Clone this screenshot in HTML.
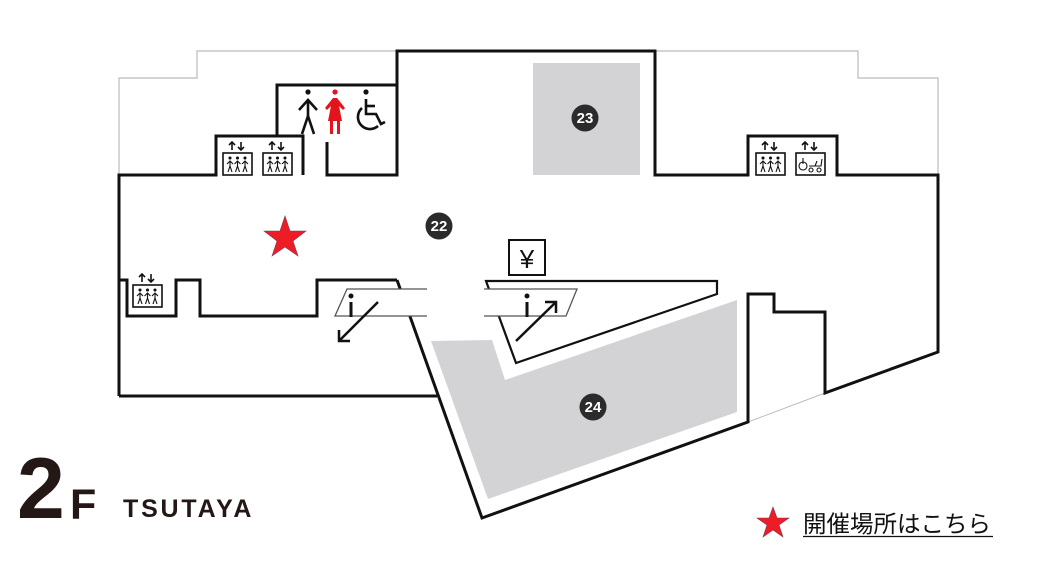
<!DOCTYPE html>
<html><head><meta charset="utf-8"><style>
html,body{margin:0;padding:0;background:#fff;width:1040px;height:569px;overflow:hidden}
svg{display:block}
</style></head><body>
<svg width="1040" height="569" viewBox="0 0 1040 569" xmlns="http://www.w3.org/2000/svg">
<polyline points="119,175 119,78 197,78 197,51 399,51" fill="none" stroke="#bbb" stroke-width="1.2"/>
<polyline points="655,51 858,51 858,78 938,78 938,175" fill="none" stroke="#bbb" stroke-width="1.2"/>
<line x1="748" y1="422" x2="825" y2="393" stroke="#bbb" stroke-width="1"/>
<rect x="533" y="63" width="107" height="112" fill="#d3d3d5"/>
<polygon points="431,341 492,340 505,380 737,300 737,412 488,499" fill="#d3d3d5"/>
<g fill="none" stroke="#111" stroke-width="3" stroke-linejoin="miter">
<polyline points="119,396 119,175 216,175 216,136 303,136 303,175"/>
<polyline points="277,136 277,85 397,85"/>
<polyline points="327,142 327,175 397,175 397,51 655,51 655,175 748,175 748,136 837,136 837,175 938,175 938,352 825,393 825,312 774,312 774,294 748,294 748,422 482,518 397,280"/>
<polyline points="119,396 437,396"/>
<polyline points="119,280 127,280 127,316 176,316 176,280 200,280 200,316 317,316 317,280 397,280"/>
</g>
<polygon points="486,281 717,281 717,294 516,363" fill="none" stroke="#111" stroke-width="2.2"/>
<polygon points="347,289 427,289 427,316 335,316" fill="#fff" stroke="none"/>
<polyline points="427,289 347,289 335,316 427,316" fill="none" stroke="#555" stroke-width="1.3"/>
<polygon points="484,289 577,289 566,316 484,316" fill="#fff" stroke="none"/>
<polyline points="484,289 577,289 566,316 484,316" fill="none" stroke="#555" stroke-width="1.3"/>
<g fill="#111" stroke="#111">
<circle cx="351" cy="296" r="2.5" stroke="none"/>
<rect x="349.5" y="302" width="3" height="15" stroke="none"/>
<line x1="378" y1="302" x2="339" y2="341" stroke-width="2.5"/>
<polyline points="339,330 339,341 350,341" fill="none" stroke-width="2.5"/>
<circle cx="527" cy="296" r="2.5" stroke="none"/>
<rect x="525.5" y="302" width="3" height="15" stroke="none"/>
<line x1="516" y1="341" x2="556" y2="302" stroke-width="2.5"/>
<polyline points="545,302 556,302 556,313" fill="none" stroke-width="2.5"/>
</g>
<rect x="509" y="240" width="36" height="35" fill="#fff" stroke="#111" stroke-width="2"/>
<text x="527" y="268" font-family="Liberation Sans, sans-serif" font-size="26" text-anchor="middle" fill="#111">¥</text>
<g font-family="Liberation Sans, sans-serif" font-weight="bold" font-size="15" fill="#fff" text-anchor="middle">
<circle cx="439" cy="226" r="13.5" fill="#2b2b2b"/><text x="439" y="231">22</text>
<circle cx="585" cy="118" r="13.5" fill="#2b2b2b"/><text x="585" y="123">23</text>
<circle cx="593" cy="407" r="13.5" fill="#2b2b2b"/><text x="593" y="412">24</text>
</g>
<defs>
<g id="ar">
<g stroke="#111" stroke-width="1.6" fill="none">
<line x1="10" y1="3" x2="10" y2="11"/><polyline points="7,6 10,3 13,6"/>
<line x1="19" y1="3" x2="19" y2="11"/><polyline points="16,8 19,11 22,8"/>
</g>
</g>
<g id="elev">
<use href="#ar"/>
<rect x="1" y="14" width="29" height="22" fill="#fff" stroke="#111" stroke-width="1.6"/>
<g stroke="#111" stroke-width="1.1" fill="none">
<circle cx="8" cy="19" r="1" fill="#111"/><polyline points="5,25 8,22 11,25"/><polyline points="6,33 8,27 10,33"/><line x1="8" y1="22" x2="8" y2="27"/>
<circle cx="15.5" cy="19" r="1" fill="#111"/><polyline points="12.5,25 15.5,22 18.5,25"/><polyline points="13.5,33 15.5,27 17.5,33"/><line x1="15.5" y1="22" x2="15.5" y2="27"/>
<circle cx="23" cy="19" r="1" fill="#111"/><polyline points="20,25 23,22 26,25"/><polyline points="21,33 23,27 25,33"/><line x1="23" y1="22" x2="23" y2="27"/>
</g>
</g>
</defs>
<use href="#elev" x="222" y="139"/>
<use href="#elev" x="262" y="139"/>
<use href="#elev" x="132" y="271"/>
<use href="#elev" x="755" y="139"/>
<g transform="translate(795,139)">
<use href="#ar"/>
<rect x="1" y="14" width="29" height="22" fill="#fff" stroke="#111" stroke-width="1.6"/>
<g stroke="#111" stroke-width="1.1" fill="none">
<circle cx="8" cy="27" r="4"/><line x1="8" y1="19" x2="8" y2="25"/><circle cx="16" cy="31" r="2"/><circle cx="24" cy="31" r="2"/><polyline points="14,27 26,27 27,20"/><line x1="20" y1="27" x2="22" y2="22"/>
</g>
</g>
<g stroke="#111" stroke-width="2.6" fill="none">
<circle cx="308" cy="92" r="2.6" fill="#111" stroke="none"/>
<polyline points="299,110 308,100 317,110"/>
<line x1="308" y1="100" x2="308" y2="116"/>
<polyline points="302,134 308,116 314,134"/>
</g>
<g fill="#e3141b">
<circle cx="335" cy="92" r="2.6"/>
<polygon points="333,98 337,98 345,108 343,110 339,106 342,121 328,121 331,106 327,110 325,108"/>
<rect x="330" y="121" width="3" height="13"/><rect x="337" y="121" width="3" height="13"/>
</g>
<g stroke="#111" stroke-width="2.6" fill="none">
<circle cx="366" cy="92" r="2.6" fill="#111" stroke="none"/>
<polyline points="366,99 366,114 376,114 381,124 385,122"/>
<line x1="366" y1="106" x2="375" y2="106"/>
<path d="M362,108 A11,11 0 1 0 378,126"/>
</g>
<polygon points="285,216 290,231 306,231 293,241 298,256 285,247 272,256 277,241 264,231 280,231" fill="#ee1c25" stroke="#7b3a55" stroke-width="0.6"/>
<polygon points="773,507 777,518 789,518 779,525 783,537 773,530 763,537 767,525 757,518 769,518" fill="#ee1c25" stroke="#7b3a55" stroke-width="0.6"/>
<text x="17" y="518" font-family="Liberation Sans, sans-serif" font-weight="bold" font-size="86" fill="#231815">2</text>
<text x="70" y="519" font-family="Liberation Sans, sans-serif" font-weight="bold" font-size="43" fill="#231815">F</text>
<text x="123" y="517" font-family="Liberation Sans, sans-serif" font-weight="bold" font-size="25" letter-spacing="2.8" fill="#231815">TSUTAYA</text>
<text x="803" y="532" font-family="Liberation Sans, 'Noto Sans CJK JP', sans-serif" font-size="23.5" fill="#111">開催場所はこちら</text>
<line x1="803" y1="536.5" x2="993" y2="536.5" stroke="#111" stroke-width="1.3"/>
</svg>
</body></html>
